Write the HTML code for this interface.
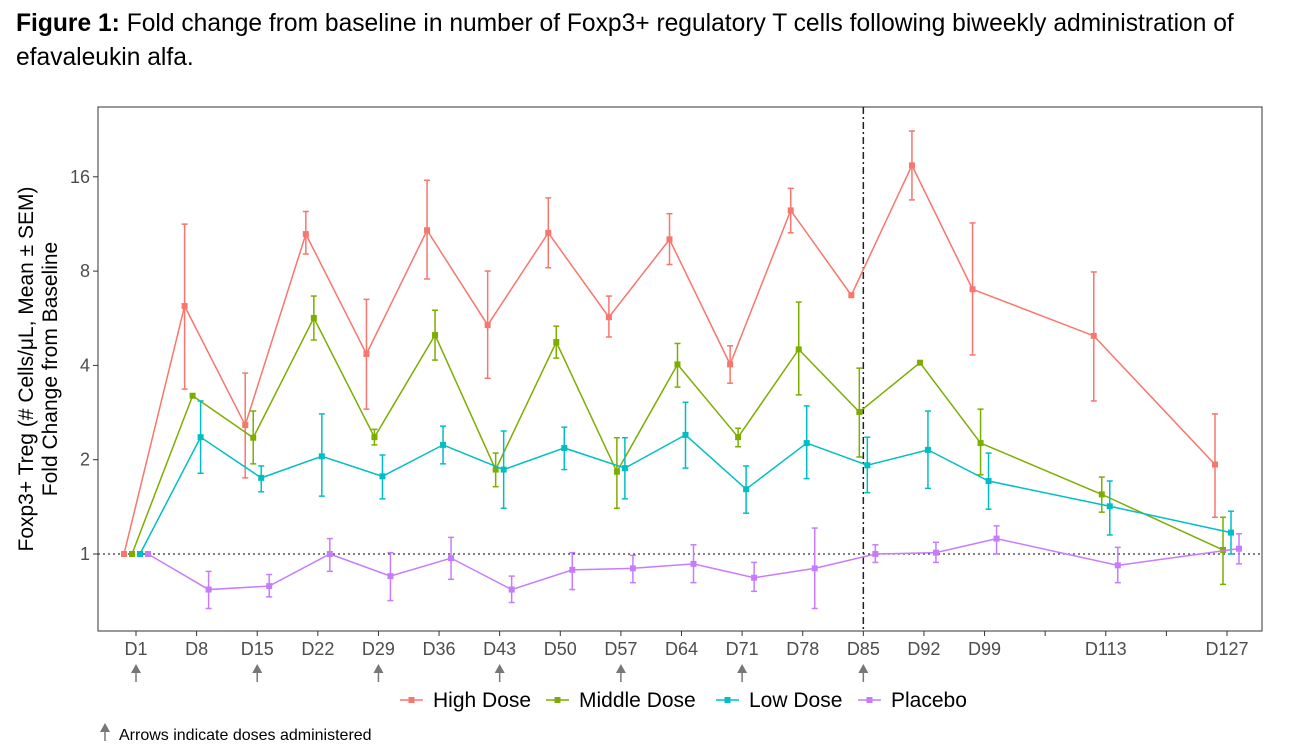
<!DOCTYPE html>
<html><head><meta charset="utf-8"><style>
body{margin:0;background:#fff;width:1304px;height:754px;overflow:hidden;font-family:"Liberation Sans",Arial,sans-serif}
#title{position:absolute;left:16px;top:7px;font-size:24.6px;line-height:34px;color:#000;width:1280px}
svg{position:absolute;left:0;top:0}
</style></head><body>
<div id="title"><b>Figure 1:</b> Fold change from baseline in number of Foxp3+ regulatory T cells following biweekly administration of efavaleukin alfa.</div>
<svg id="chart" width="1304" height="754"></svg>
<script>
const days=[1,8,15,22,29,36,43,50,57,64,71,78,85,92,99,113,127];
const yTicks=[1,2,4,8,16];
const doseDays=[1,15,29,43,57,71,85];
const highMean=[1,6.19,2.58,10.5,4.35,10.8,5.38,10.6,5.7,10.1,4.03,12.5,6.7,17.4,7.0,4.97,1.93];
const highLo=[1,3.36,1.75,9.07,2.9,7.55,3.64,8.2,4.93,8.4,3.51,10.6,6.7,13.5,4.32,3.08,1.31];
const highHi=[1,11.3,3.78,12.4,6.5,15.6,8.0,13.7,6.66,12.2,4.62,14.7,6.7,22.4,11.4,7.95,2.8];
const midMean=[1,3.2,2.35,5.67,2.36,5.0,1.86,4.75,1.83,4.03,2.36,4.5,2.84,4.08,2.26,1.55,1.03];
const midLo=[1,3.2,1.94,4.82,2.23,4.16,1.64,4.22,1.40,3.41,2.2,3.22,2.04,4.08,1.79,1.36,0.80];
const midHi=[1,3.2,2.86,6.66,2.5,6.0,2.1,5.34,2.35,4.7,2.52,6.37,3.92,4.08,2.9,1.76,1.31];
const lowMean=[1,2.36,1.75,2.05,1.77,2.23,1.86,2.18,1.88,2.4,1.61,2.26,1.92,2.15,1.71,1.42,1.17];
const lowLo=[1,1.81,1.58,1.53,1.5,1.94,1.40,1.86,1.5,1.88,1.35,1.74,1.57,1.62,1.39,1.15,1.0];
const lowHi=[1,3.08,1.91,2.8,2.07,2.56,2.47,2.54,2.35,3.05,1.91,2.97,2.36,2.86,2.1,1.71,1.37];
const plaMean=[1,0.77,0.79,1.0,0.85,0.97,0.77,0.89,0.90,0.93,0.84,0.90,1.0,1.01,1.12,0.92,1.04];
const plaLo=[1,0.67,0.73,0.88,0.71,0.83,0.70,0.77,0.81,0.81,0.76,0.67,0.94,0.94,1.0,0.81,0.93];
const plaHi=[1,0.88,0.86,1.12,1.01,1.13,0.85,1.01,0.99,1.07,0.94,1.21,1.07,1.09,1.23,1.05,1.16];
const series=[
 {name:'High Dose',color:'#F8766D',m:highMean,lo:highLo,hi:highHi,off:-12},
 {name:'Middle Dose',color:'#7CAE00',m:midMean,lo:midLo,hi:midHi,off:-4},
 {name:'Low Dose',color:'#00BFC4',m:lowMean,lo:lowLo,hi:lowHi,off:4},
 {name:'Placebo',color:'#C77CFF',m:plaMean,lo:plaLo,hi:plaHi,off:12}];
const L=98,R=1262,T=107,B=631;
const xs=d=>136+(d-1)*(1091/126);
const ys=v=>554-Math.log2(v)*94.3;
const svg=document.getElementById('chart');
const NS='http://www.w3.org/2000/svg';
function mk(tag,at,parent){const e=document.createElementNS(NS,tag);for(const k in at)e.setAttribute(k,at[k]);(parent||svg).appendChild(e);return e;}
let r=mk('rect',{x:L,y:T,width:R-L,height:B-T,fill:'none',stroke:'#333','stroke-width':1});


let hl=mk('line',{x1:L,x2:R,y1:ys(1),y2:ys(1),stroke:'#333','stroke-dasharray':'2,3','stroke-width':1.3});


let vl=mk('line',{x1:xs(85),x2:xs(85),y1:T,y2:B,stroke:'#222','stroke-dasharray':'7,3,2,3','stroke-width':1.5});


yTicks.forEach(v=>{
 mk('line',{x1:L-5,x2:L,y1:ys(v),y2:ys(v),stroke:'#333'});
 let t=mk('text',{x:L-8,y:ys(v)+6,'text-anchor':'end','font-size':18,fill:'#4d4d4d'});t.textContent=v;
 
 
});
days.concat([106,120]).forEach(d=>{mk('line',{x1:xs(d),x2:xs(d),y1:B,y2:B+5,stroke:'#333'});});
days.forEach(d=>{let t=mk('text',{x:xs(d),y:655,'text-anchor':'middle','font-size':18,fill:'#4d4d4d'});t.textContent='D'+d;
 
 });
doseDays.forEach(d=>{const x=xs(d);
 let g=mk('g',{});
 
 
 mk('line',{x1:x,x2:x,y1:670,y2:682,stroke:'#777','stroke-width':1.5},g);
 mk('polygon',{points:`${x-5},673 ${x+5},673 ${x},664`,fill:'#777'},g);});
series.forEach(s=>{
 let g=mk('g',{});
 
 
 const pts=days.map((d,i)=>[xs(d)+s.off,ys(s.m[i])]);
 mk('polyline',{points:pts.map(p=>p.join(',')).join(' '),fill:'none',stroke:s.color,'stroke-width':1.5},g);
 days.forEach((d,i)=>{const x=xs(d)+s.off,y1=ys(s.hi[i]),y2=ys(s.lo[i]);
  if(Math.abs(y2-y1)>1){mk('line',{x1:x,x2:x,y1:y1,y2:y2,stroke:s.color,'stroke-width':1.5},g);
  mk('line',{x1:x-3,x2:x+3,y1:y1,y2:y1,stroke:s.color,'stroke-width':1.5},g);
  mk('line',{x1:x-3,x2:x+3,y1:y2,y2:y2,stroke:s.color,'stroke-width':1.5},g);}
  mk('rect',{x:x-3,y:ys(s.m[i])-3,width:6,height:6,fill:s.color},g);});
});
let yt=mk('text',{transform:'translate(33,369) rotate(-90)','text-anchor':'middle','font-size':21,fill:'#000'});
yt.textContent='Foxp3+ Treg (# Cells/μL, Mean ± SEM)';


let yt2=mk('text',{transform:'translate(57,369) rotate(-90)','text-anchor':'middle','font-size':21,fill:'#000'});
yt2.textContent='Fold Change from Baseline';


const legX=[400,546,716,858];
series.forEach((s,i)=>{let g=mk('g',{});
 
 
 const x=legX[i];
 mk('line',{x1:x,x2:x+23,y1:700,y2:700,stroke:s.color,'stroke-width':1.5},g);
 mk('rect',{x:x+8.5,y:697,width:6,height:6,fill:s.color},g);
 let t=mk('text',{x:x+33,y:707,'font-size':21,fill:'#000'},g);t.textContent=s.name;});
let fg=mk('g',{});


mk('line',{x1:105,x2:105,y1:729,y2:741,stroke:'#777','stroke-width':1.5},fg);
mk('polygon',{points:'100,732 110,732 105,723',fill:'#777'},fg);
let ft=mk('text',{x:119,y:740,'font-size':16,fill:'#000'},fg);ft.textContent='Arrows indicate doses administered';
</script>
</body></html>
